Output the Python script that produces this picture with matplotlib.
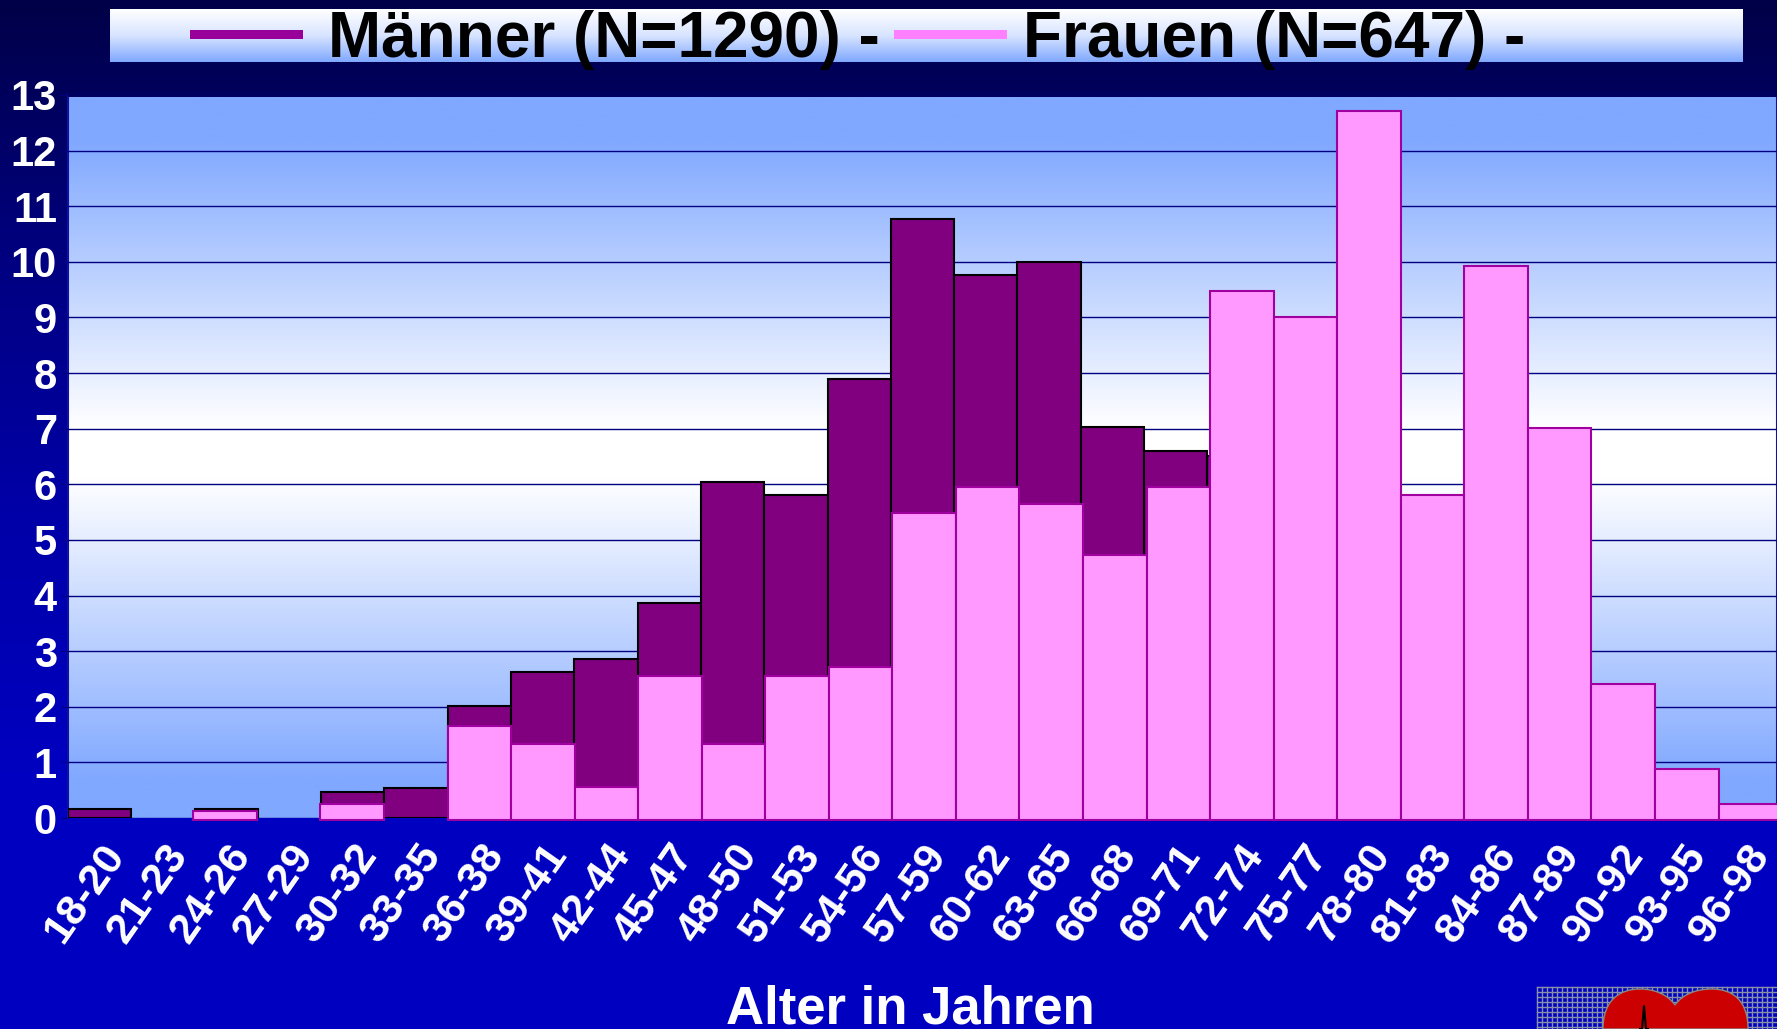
import numpy as np
import matplotlib
matplotlib.use("Agg")
import matplotlib.pyplot as plt
from matplotlib.colors import LinearSegmentedColormap
from matplotlib.patches import Rectangle, PathPatch
from matplotlib.path import Path
from matplotlib.transforms import ScaledTranslation

plt.rcParams['font.family'] = ['Liberation Sans', 'DejaVu Sans']
plt.rcParams['font.weight'] = 'bold'

W, H = 1777, 1029

# Data
age_groups = ["18-20", "21-23", "24-26", "27-29", "30-32", "33-35", "36-38", "39-41", "42-44",
              "45-47", "48-50", "51-53", "54-56", "57-59", "60-62", "63-65", "66-68", "69-71",
              "72-74", "75-77", "78-80", "81-83", "84-86", "87-89", "90-92", "93-95", "96-98"]
men = [0.16, 0, 0.16, 0, 0.46, 0.54, 2.01, 2.63, 2.86, 3.86, 6.05, 5.8, 7.9, 10.77, 9.77, 10.0, 7.03, 6.6,
       6.5, 5.0, 4.5, 3.7, 3.0, 2.0, 1.0, 0.05, 0]
women = [0, 0, 0.13, 0, 0.26, 0, 1.66, 1.33, 0.56, 2.56, 1.33, 2.56, 2.71, 5.48, 5.95, 5.65, 4.72, 5.95,
         9.48, 9.01, 12.71, 5.8, 9.93, 7.02, 2.41, 0.88, 0.26]
y_ticks = list(range(14))
men_label = "Männer (N=1290) -"
women_label = "Frauen (N=647) -"
x_label = "Alter in Jahren"


def grad(colors):
    return LinearSegmentedColormap.from_list("g", colors)


fig = plt.figure(figsize=(W / 100, H / 100), dpi=100)

# background layer in pixel coords
bg = fig.add_axes([0, 0, 1, 1], zorder=0)
bg.axis("off")
v = np.linspace(0, 1, 256).reshape(-1, 1)
bg.imshow(v, cmap=grad(["#000048", "#000080", "#0000A8", "#0000C0", "#0000C0"]), extent=(0, W, H, 0), aspect="auto")
bg.imshow(v, cmap=grad(["#FFFFFF", "#D8E4FF", "#80A8FF"]), extent=(110, 1743, 62, 9), aspect="auto")

# legend line + text
bg.add_patch(Rectangle((190, 30), 113, 9, color="#990099", lw=0))
bg.add_patch(Rectangle((894, 30), 113, 9, color="#FF80FF", lw=0))
bg.text(328, 57, men_label, fontsize=46, color="black", va="baseline", ha="left")
bg.text(1023, 57, women_label, fontsize=46, color="black", va="baseline", ha="left")
bg.text(910, 1024, x_label, fontsize=38, color="white", va="baseline", ha="center")

# logo bottom right
for gx in np.arange(1537, W, 5):
    bg.plot([gx, gx], [987, H], color="#8890A8", lw=1)
for gy in np.arange(987, H, 5):
    bg.plot([1537, W], [gy, gy], color="#8890A8", lw=1)
heart = Path([(1603, 1029), (1603, 1000), (1620, 989), (1640, 989), (1655, 989), (1668, 995), (1675, 1005),
              (1682, 995), (1695, 989), (1712, 989), (1732, 989), (1748, 1000), (1748, 1029), (1603, 1029)],
             [Path.MOVETO, Path.CURVE4, Path.CURVE4, Path.CURVE4, Path.CURVE4, Path.CURVE4, Path.CURVE4,
              Path.CURVE4, Path.CURVE4, Path.CURVE4, Path.CURVE4, Path.CURVE4, Path.CURVE4, Path.CLOSEPOLY])
bg.add_patch(PathPatch(heart, facecolor="#CC0000", edgecolor="#888888", lw=1, zorder=3))
bg.plot([1640, 1642, 1644, 1646, 1648], [1029, 1029, 1006, 1029, 1029], color="black", lw=1.5, zorder=4)
bg.set_xlim(0, W)
bg.set_ylim(H, 0)

# main plot
ax = fig.add_axes([68 / W, 1 - 818 / H, (W - 68) / W, (818 - 95) / H], zorder=1)
ax.imshow(v, cmap=grad([(0, "#80A8FF"), (0.06, "#80A8FF"), (0.46, "#FFFFFF"), (0.53, "#FFFFFF"),
                        (0.95, "#80A8FF"), (1, "#80A8FF")]),
          extent=(-0.5, 26.5, 0, 13), aspect="auto", zorder=0)
x = np.arange(len(age_groups))
men_x = [i for i in x if men[i] > 0]
ax.bar(men_x, [men[i] for i in men_x], width=1.0, color="#800080", edgecolor="black", linewidth=1.5, zorder=3)
ax.set_xlim(-0.5, 26.5)
ax.set_ylim(0, 13)
ax.set_yticks(y_ticks)
ax.set_yticklabels(y_ticks, fontsize=30, color="white", fontweight="bold")
for lab in ax.get_yticklabels():
    lab.set_transform(lab.get_transform() + ScaledTranslation(0, -3 / 100, fig.dpi_scale_trans))
ax.set_xticks(x)
ax.set_xticklabels(age_groups, fontsize=31, color="white", fontweight="bold", rotation=55,
                   ha="right", va="top", rotation_mode="anchor")
ax.tick_params(axis="y", length=5, color="#000080", pad=3)
ax.tick_params(axis="x", length=0, pad=14)
ax.grid(axis="y", color="#000080", lw=1, zorder=1)
ax.set_axisbelow(False)
for s in ax.spines.values():
    s.set_color("#1010A0")
    s.set_linewidth(1.5)
ax.spines["bottom"].set_visible(False)

# the women's bars sit on their own slightly wider x scale, base a bit below the axis
base = -0.036
ax2 = fig.add_axes([68 / W, 1 - 821 / H, (W - 68) / W, (821 - 95) / H], zorder=2)
ax2.patch.set_alpha(0)
women_x = [i for i in x if women[i] > 0]
ax2.bar(women_x, [women[i] - base for i in women_x], bottom=base, width=1.0,
        color="#FF99FF", edgecolor="#A000A0", linewidth=1.5)
ax2.set_xlim(-0.472, 26.42)
ax2.set_ylim(3 * 13 / -723, 13)
ax2.axis("off")

# strip over the top of the plot, the panel starts just under the 13 line
fig.add_artist(Rectangle((68 / W, 1 - 97 / H), (W - 68) / W, 3 / H, transform=fig.transFigure,
                         color="#000060", lw=0, zorder=5))

fig.savefig("out.png", dpi=100)
